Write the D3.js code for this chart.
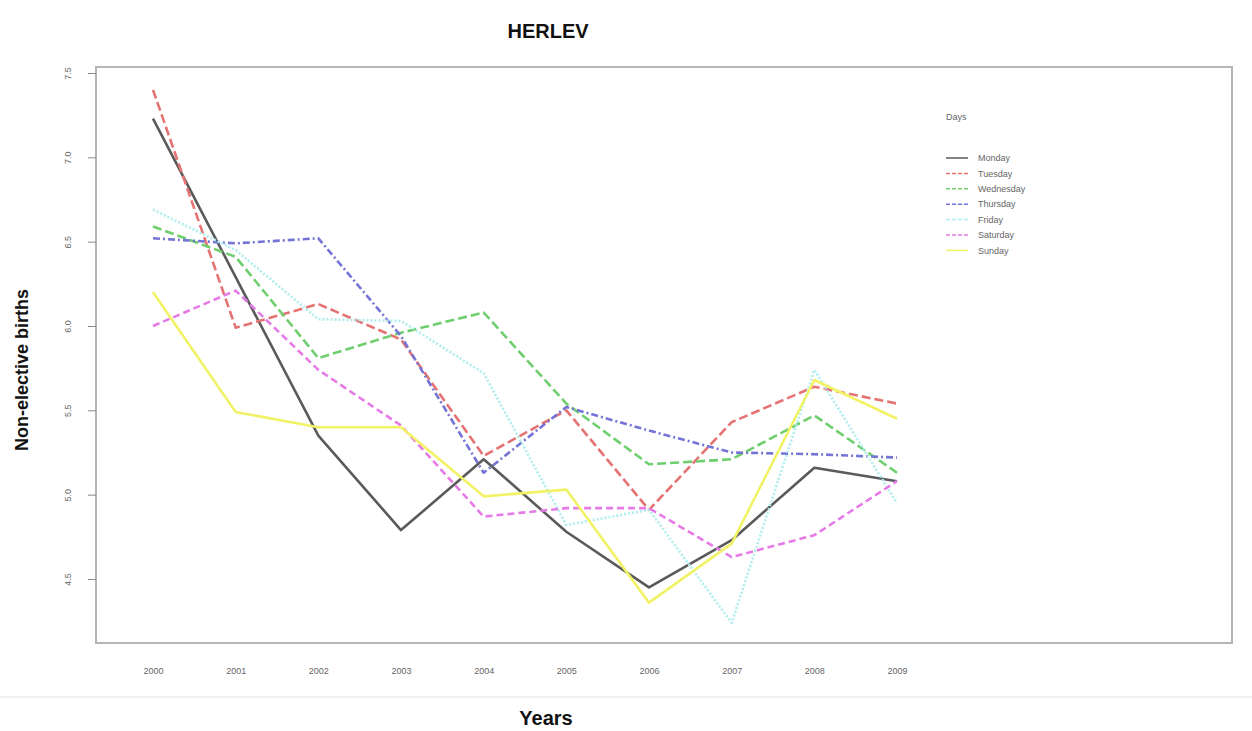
<!DOCTYPE html>
<html><head><meta charset="utf-8">
<script src="https://cdn.jsdelivr.net/npm/d3@7/dist/d3.min.js"></script>
<style>body{margin:0;background:#fff}svg{display:block}</style>
</head><body>
<svg id="c" width="1252" height="731"></svg>
<script>
const years = [2000,2001,2002,2003,2004,2005,2006,2007,2008,2009];
const yTicks = [4.5,5.0,5.5,6.0,6.5,7.0,7.5];
const days = ["Monday","Tuesday","Wednesday","Thursday","Friday","Saturday","Sunday"];
const monday    = [7.23,6.29,5.35,4.79,5.21,4.78,4.45,4.73,5.16,5.08];
const tuesday   = [7.40,5.99,6.13,5.92,5.23,5.50,4.91,5.43,5.64,5.54];
const wednesday = [6.59,6.41,5.81,5.96,6.08,5.54,5.18,5.21,5.47,5.13];
const thursday  = [6.52,6.49,6.52,5.94,5.13,5.52,5.38,5.25,5.24,5.22];
const friday    = [6.69,6.45,6.04,6.03,5.72,4.82,4.91,4.24,5.74,4.95];
const saturday  = [6.00,6.21,5.74,5.41,4.87,4.92,4.92,4.63,4.76,5.08];
const sunday    = [6.20,5.49,5.40,5.40,4.99,5.03,4.36,4.71,5.68,5.45];
const seriesValues = [monday,tuesday,wednesday,thursday,friday,saturday,sunday];

const colors = ["#5a5a5a","#e57373","#6fcf6f","#7474d6","#aeeeee","#e67ae6","#f2f266"];
const dashes = [null,"9,4","9,4","7,3,2,3","2,2","7,4",null];

const svg = d3.select("#c");
const x = d3.scaleLinear().domain([2000,2009]).range([153,897]);
const y = d3.scaleLinear().domain([4.5,7.5]).range([579,73]);

// frame
svg.append("rect").attr("x",96).attr("y",67).attr("width",1136).attr("height",576)
  .attr("fill","none").attr("stroke","#b5b5b5").attr("stroke-width",2);

// y axis
const yAxis = svg.append("g").attr("transform","translate(96,0)")
  .call(d3.axisLeft(y).tickValues(yTicks).tickFormat(d3.format(".1f")).tickSize(8).tickSizeOuter(0));
yAxis.select(".domain").remove();
yAxis.selectAll("line").attr("stroke","#888");
yAxis.selectAll("text").attr("fill","#666").attr("font-size","9px").attr("font-family","Liberation Sans, Arial")
  .attr("x",0).attr("dy","0.35em")
  .attr("transform","translate(-28,0) rotate(-90)")
  .attr("text-anchor","middle");

// x axis labels
const xAxis = svg.append("g").attr("transform","translate(0,643)")
  .call(d3.axisBottom(x).tickValues(years).tickFormat(d3.format("d")).tickSize(0));
xAxis.select(".domain").remove();
xAxis.selectAll("text").attr("fill","#666").attr("font-size","9px").attr("font-family","Liberation Sans, Arial")
  .attr("y",25);

// lines
const line = d3.line().x((d,i)=>x(years[i])).y(d=>y(d));
seriesValues.forEach((vals,k)=>{
  svg.append("path").datum(vals).attr("d",line).attr("fill","none")
    .attr("stroke",colors[k]).attr("stroke-width",2.6)
    .attr("stroke-dasharray",dashes[k]).attr("stroke-linejoin","round");
});

// legend
const lg = svg.append("g").attr("font-family","Liberation Sans, Arial").attr("font-size","9px").attr("fill","#666");
lg.append("text").attr("x",946).attr("y",120).text("Days");
days.forEach((d,k)=>{
  const yy = 158 + k*15.4;
  lg.append("line").attr("x1",946).attr("x2",968).attr("y1",yy).attr("y2",yy)
    .attr("stroke",colors[k]).attr("stroke-width",1.5).attr("stroke-dasharray",dashes[k] ? "4,2" : null);
  lg.append("text").attr("x",978).attr("y",yy).attr("dy","0.35em").text(d);
});

// titles
svg.append("text").attr("x",548).attr("y",38).attr("text-anchor","middle")
  .attr("font-family","Liberation Sans, Arial").attr("font-weight","bold").attr("font-size","20px").attr("fill","#111").text("HERLEV");
svg.append("text").attr("transform","translate(28,370) rotate(-90)").attr("text-anchor","middle")
  .attr("font-family","Liberation Sans, Arial").attr("font-weight","bold").attr("font-size","18px").attr("fill","#111").text("Non-elective births");
svg.append("text").attr("x",546).attr("y",725).attr("text-anchor","middle")
  .attr("font-family","Liberation Sans, Arial").attr("font-weight","bold").attr("font-size","20px").attr("fill","#111").text("Years");

// bottom separator line
svg.append("line").attr("x1",0).attr("x2",1252).attr("y1",697).attr("y2",697).attr("stroke","#e2e2e2").attr("stroke-width",1);
</script>
</body></html>
